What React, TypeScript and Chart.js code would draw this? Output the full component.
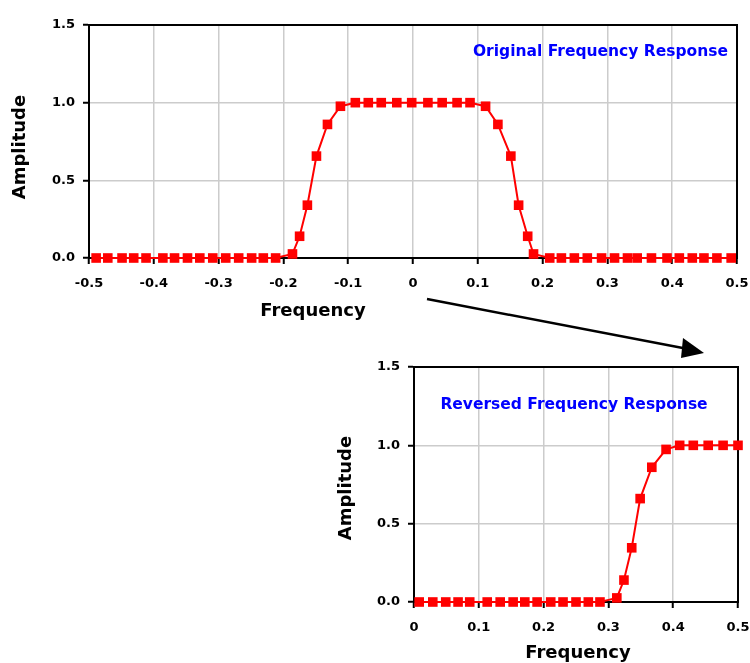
import React, { useEffect, useRef } from "react";
import { Chart, registerables } from "chart.js";

Chart.register(...registerables);

// Filter magnitude response sampled over the full band (-0.5 .. 0.5)
const originalFreq = [
  -0.489, -0.471, -0.449, -0.431, -0.412, -0.386, -0.368, -0.348, -0.329, -0.309,
  -0.289, -0.269, -0.249, -0.231, -0.212,
  -0.186, -0.175, -0.163, -0.149, -0.132, -0.112,
  -0.089, -0.069, -0.049, -0.025, -0.002, 0.023, 0.045, 0.068, 0.088,
  0.112, 0.131, 0.151, 0.163, 0.177, 0.186,
  0.211, 0.229, 0.249, 0.269, 0.291, 0.311, 0.331, 0.346, 0.368, 0.392,
  0.411, 0.431, 0.449, 0.469, 0.491,
];
const originalAmp = [
  0, 0, 0, 0, 0, 0, 0, 0, 0, 0,
  0, 0, 0, 0, 0,
  0.026, 0.14, 0.34, 0.656, 0.86, 0.977,
  1, 1, 1, 1, 1, 1, 1, 1, 1,
  0.977, 0.86, 0.656, 0.34, 0.14, 0.026,
  0, 0, 0, 0, 0, 0, 0, 0, 0, 0,
  0, 0, 0, 0, 0,
];

// Same response after spectral reversal, shown over 0 .. 0.5
const reversedFreq = [
  0.008, 0.029, 0.049, 0.068, 0.086, 0.113, 0.133, 0.153, 0.171, 0.19,
  0.211, 0.23, 0.25, 0.269, 0.287,
  0.313, 0.324, 0.336, 0.349, 0.367, 0.389,
  0.41, 0.431, 0.454, 0.477, 0.5,
];
const reversedAmp = [
  0, 0, 0, 0, 0, 0, 0, 0, 0, 0,
  0, 0, 0, 0, 0,
  0.026, 0.14, 0.346, 0.66, 0.86, 0.974,
  1, 1, 1, 1, 1,
];

const originalTicks = [-0.5, -0.4, -0.3, -0.2, -0.1, 0, 0.1, 0.2, 0.3, 0.4, 0.5];
const originalTickLabels = ["-0.5", "-0.4", "-0.3", "-0.2", "-0.1", "0", "0.1", "0.2", "0.3", "0.4", "0.5"];
const reversedTicks = [0, 0.1, 0.2, 0.3, 0.4, 0.5];
const reversedTickLabels = ["0", "0.1", "0.2", "0.3", "0.4", "0.5"];
const ampTicks = [0, 0.5, 1.0, 1.5];
const ampTickLabels = ["0.0", "0.5", "1.0", "1.5"];

const FAMILY = "'DejaVu Sans', sans-serif";
const RED = "#ff0000";

const framePlugin = {
  id: "plotFrame",
  beforeDatasetsDraw(chart: any) {
    const { ctx, chartArea: a } = chart;
    ctx.save();
    ctx.strokeStyle = "#000";
    ctx.lineWidth = 2;
    ctx.strokeRect(a.left, a.top, a.right - a.left, a.bottom - a.top);
    ctx.restore();
  },
};

const captionPlugin = {
  id: "captions",
  afterDraw(chart: any, _args: any, opts: any) {
    const { ctx } = chart;
    for (const it of opts.items || []) {
      ctx.save();
      ctx.translate(it.x, it.y);
      if (it.rotation) ctx.rotate(it.rotation);
      ctx.font = it.font;
      ctx.fillStyle = it.color;
      ctx.textAlign = it.align || "center";
      ctx.textBaseline = "middle";
      ctx.fillText(it.text, 0, 0);
      ctx.restore();
    }
  },
};

type Setup = {
  freq: number[];
  amp: number[];
  xMin: number;
  xMax: number;
  xTicks: number[];
  xLabels: string[];
  padding: { top: number; right: number; left: number; bottom: number };
  yWidth: number;
  xHeight: number;
  captions: any[];
};

function buildChart(canvas: HTMLCanvasElement, s: Setup) {
  const tickFont = { family: FAMILY, weight: "bold" as const, size: 13 };
  return new Chart(canvas, {
    type: "line",
    data: {
      datasets: [
        {
          data: s.freq.map((f, i) => ({ x: f, y: s.amp[i] })),
          borderColor: RED,
          backgroundColor: RED,
          borderWidth: 2,
          pointStyle: "rect",
          pointRadius: 6.8,
          pointBorderWidth: 0,
          pointBackgroundColor: RED,
          tension: 0,
          clip: false as any,
        },
      ],
    },
    options: {
      animation: false,
      responsive: false,
      events: [],
      layout: { padding: s.padding, autoPadding: false },
      plugins: {
        legend: { display: false },
        tooltip: { enabled: false },
        captions: { items: s.captions },
      } as any,
      scales: {
        x: {
          type: "linear",
          min: s.xMin,
          max: s.xMax,
          afterBuildTicks: (sc: any) => {
            sc.ticks = s.xTicks.map((v) => ({ value: v }));
          },
          afterFit: (sc: any) => {
            sc.height = s.xHeight;
            // end labels may overhang the plot; the outer padding already leaves room
            sc.paddingLeft = 0;
            sc.paddingRight = 0;
          },
          ticks: {
            callback: (_v: any, i: number) => s.xLabels[i],
            font: tickFont,
            color: "#000",
            padding: 12,
            maxRotation: 0,
            autoSkip: false,
          },
          grid: { color: "#cccccc", lineWidth: 1.5, tickLength: 6, tickColor: "#000", tickWidth: 2 } as any,
          border: { color: "#000", width: 2 },
        },
        y: {
          type: "linear",
          min: 0,
          max: 1.5,
          afterBuildTicks: (sc: any) => {
            sc.ticks = ampTicks.map((v) => ({ value: v }));
          },
          afterFit: (sc: any) => {
            sc.width = s.yWidth;
            sc.paddingTop = 0;
            sc.paddingBottom = 0;
          },
          ticks: {
            callback: (_v: any, i: number) => ampTickLabels[i],
            font: tickFont,
            color: "#000",
            padding: 8,
          },
          grid: { color: "#cccccc", lineWidth: 1.5, tickLength: 6, tickColor: "#000", tickWidth: 2 } as any,
          border: { color: "#000", width: 2 },
        },
      },
    },
    plugins: [framePlugin, captionPlugin],
  });
}

const titleFont = `bold 18px ${FAMILY}`;
const noteFont = `bold 15.5px ${FAMILY}`;

export default function App() {
  const topRef = useRef<HTMLCanvasElement>(null);
  const bottomRef = useRef<HTMLCanvasElement>(null);

  useEffect(() => {
    const top = buildChart(topRef.current!, {
      freq: originalFreq,
      amp: originalAmp,
      xMin: -0.5,
      xMax: 0.5,
      xTicks: originalTicks,
      xLabels: originalTickLabels,
      padding: { top: 25, right: 13, left: 0, bottom: 0 },
      yWidth: 89,
      xHeight: 72,
      captions: [
        { text: "Amplitude", x: 20, y: 147, rotation: -Math.PI / 2, font: titleFont, color: "#000" },
        { text: "Frequency", x: 313, y: 311, font: titleFont, color: "#000" },
        { text: "Original Frequency Response", x: 728, y: 52, align: "right", font: noteFont, color: "#0000ff" },
      ],
    });
    const bottom = buildChart(bottomRef.current!, {
      freq: reversedFreq,
      amp: reversedAmp,
      xMin: 0,
      xMax: 0.5,
      xTicks: reversedTicks,
      xLabels: reversedTickLabels,
      padding: { top: 27, right: 12, left: 0, bottom: 0 },
      yWidth: 84,
      xHeight: 61,
      captions: [
        { text: "Amplitude", x: 16, y: 148, rotation: -Math.PI / 2, font: titleFont, color: "#000" },
        { text: "Frequency", x: 248, y: 313, font: titleFont, color: "#000" },
        { text: "Reversed Frequency Response", x: 244, y: 65, font: noteFont, color: "#0000ff" },
      ],
    });
    return () => {
      top.destroy();
      bottom.destroy();
    };
  }, []);

  return (
    <div style={{ position: "absolute", left: 0, top: 0, width: 750, height: 663, background: "#fff" }}>
      <canvas
        ref={topRef}
        width={750}
        height={330}
        style={{ position: "absolute", left: 0, top: 0, width: 750, height: 330 }}
      />
      <canvas
        ref={bottomRef}
        width={420}
        height={323}
        style={{ position: "absolute", left: 330, top: 340, width: 420, height: 323 }}
      />
      <svg
        width={750}
        height={663}
        style={{ position: "absolute", left: 0, top: 0, pointerEvents: "none" }}
      >
        <line x1={427} y1={299} x2={688} y2={349} stroke="#000" strokeWidth={2.5} />
        <polygon points="704,353 683,338 681,358" fill="#000" />
      </svg>
    </div>
  );
}
